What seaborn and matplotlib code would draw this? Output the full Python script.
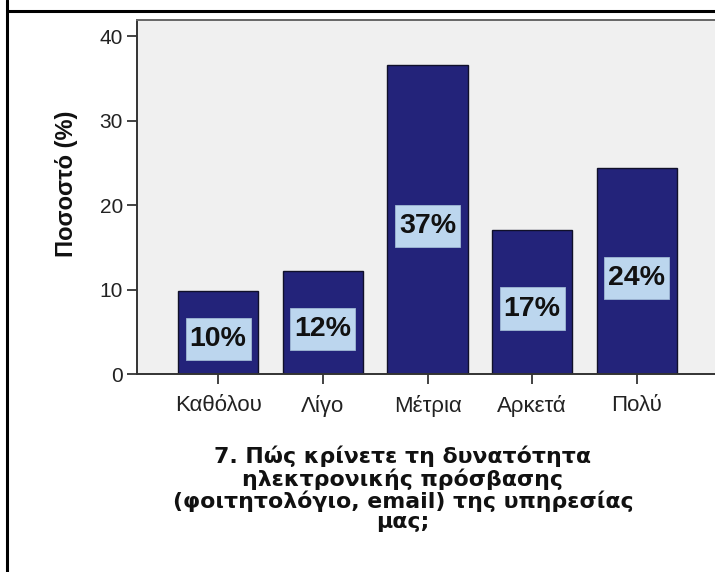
import matplotlib
matplotlib.use("Agg")
import matplotlib.pyplot as plt
import seaborn as sns
import pandas as pd
from matplotlib.lines import Line2D
from matplotlib.patches import Rectangle

categories = ["Καθόλου", "Λίγο", "Μέτρια", "Αρκετά", "Πολύ"]
values = [9.8, 12.2, 36.6, 17.1, 24.4]
labels = ["10%", "12%", "37%", "17%", "24%"]
yticks = [0, 10, 20, 30, 40]
ylabel = "Ποσοστό (%)"
title = "7. Πώς κρίνετε τη δυνατότητα\nηλεκτρονικής πρόσβασης\n(φοιτητολόγιο, email) της υπηρεσίας\nμας;"

sns.set_theme(style="white")
plt.rcParams['font.family'] = ['Liberation Sans', 'DejaVu Sans']

W, H = 715, 572
fig = plt.figure(figsize=(W / 100, H / 100), dpi=100)
ax = fig.add_axes([137 / W, 1 - 374 / H, 581 / W, 354 / H])

df = pd.DataFrame({"cat": categories, "val": values})
sns.barplot(data=df, x="cat", y="val", color="#23237a", saturation=1,
            edgecolor="#10102a", linewidth=1.0, width=0.77, ax=ax, zorder=2)

ax.set_facecolor("#f0f0f0")
ax.set_xlim(-0.775, len(categories) - 1 + 0.775)
ax.set_ylim(0, 41.9)
ax.set_yticks(yticks)
ax.set_xlabel("")
ax.set_ylabel("")
ax.tick_params(axis="both", which="both", direction="out", length=7, width=1.2,
               colors="#222222", labelsize=15, pad=3)
ax.tick_params(axis="x", bottom=True, labelsize=16, pad=8)
ax.tick_params(axis="y", left=True)
for s in ["left", "bottom"]:
    ax.spines[s].set_color("#333333")
    ax.spines[s].set_linewidth(1.4)
ax.spines["top"].set_color("#666666")
ax.spines["top"].set_linewidth(1.4)
ax.spines["right"].set_visible(False)

# value labels in light-blue boxes
bw, bh = 0.62, 5.0
for i, (v, lab) in enumerate(zip(values, labels)):
    yc = v / 2 - 0.8
    ax.add_patch(Rectangle((i - bw / 2, yc - bh / 2), bw, bh, facecolor="#bcd6ee",
                           edgecolor="#9fb8d4", linewidth=0.6, zorder=3))
    ax.text(i, yc, lab, ha="center", va="center", fontsize=20.5, fontweight="bold",
            color="#111111", zorder=4)

fig.text(66 / W, 1 - 184 / H, ylabel, rotation=90, ha="center", va="center",
         fontsize=17, fontweight="bold", color="#111111")

fig.text(403 / W, 1 - 489 / H, title, ha="center", va="center", fontsize=15.8,
         fontweight="bold", family=["DejaVu Sans"], linespacing=1.03, color="#111111")

# page border lines
fig.add_artist(Line2D([7 / W, 7 / W], [0, 1], transform=fig.transFigure,
                      color="black", linewidth=2.2))
fig.add_artist(Line2D([7 / W, 1], [1 - 11 / H, 1 - 11 / H], transform=fig.transFigure,
                      color="black", linewidth=2.2))

fig.savefig("out.png", dpi=100, facecolor="white")
